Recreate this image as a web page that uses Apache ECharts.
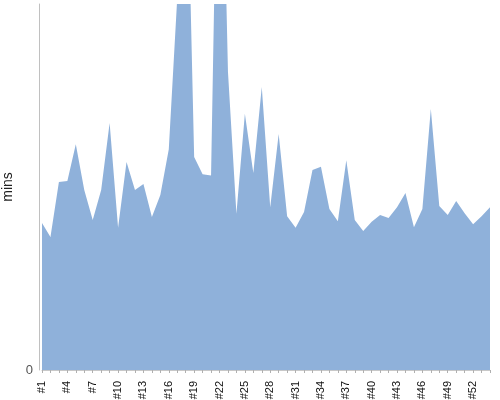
<!DOCTYPE html>
<html>
<head>
<meta charset="utf-8">
<script src="https://cdn.jsdelivr.net/npm/echarts@6/dist/echarts.min.js"></script>
<style>html,body{margin:0;padding:0;background:#fff}#c{width:500px;height:400px}</style>
</head>
<body>
<div id="c"></div>
<script>
var categories = [];
for (var n = 1; n <= 54; n++) categories.push('#' + n);
var minsValues = [24.1, 21.8, 30.8, 31.0, 37.0, 29.5, 24.6, 29.5, 40.5, 23.3,
  34.1, 29.5, 30.5, 25.1, 28.7, 36.2, 61, 95, 34.9, 32.1,
  31.9, 110, 48.9, 25.6, 42.0, 32.3, 46.4, 26.7, 38.7, 25.2,
  23.3, 25.9, 32.8, 33.3, 26.4, 24.4, 34.4, 24.6, 22.8, 24.3,
  25.4, 24.9, 26.7, 29.0, 23.4, 26.4, 42.8, 26.9, 25.4, 27.7,
  25.7, 23.9, 25.2, 26.7];
var yMax = 60;
var yTickLabels = ['0'];

var chart = echarts.init(document.getElementById('c'), null, {renderer: 'canvas'});
chart.setOption({
  animation: false,
  grid: {left: 42, right: 10, top: 4, bottom: 30, containLabel: false, outerBoundsMode: 'none'},
  xAxis: {
    type: 'category',
    data: categories,
    boundaryGap: false,
    offset: 2,
    axisLine: {show: true, lineStyle: {color: '#c8c8c8', width: 1}},
    axisTick: {show: true, alignWithLabel: true, interval: 0, length: 3, lineStyle: {color: '#b0b0b0'}},
    axisLabel: {
      interval: 2, rotate: 90, color: '#111', fontSize: 11,
      fontFamily: 'Liberation Sans, Arial, sans-serif', margin: 9
    },
    splitLine: {show: false}
  },
  yAxis: {
    type: 'value',
    min: 0, max: yMax, interval: yMax,
    offset: 3,
    name: 'mins',
    nameLocation: 'middle',
    nameGap: 20,
    nameTextStyle: {color: '#222', fontSize: 14, fontFamily: 'Liberation Sans, Arial, sans-serif'},
    axisLine: {show: true, lineStyle: {color: '#c0c0c0', width: 1}},
    axisTick: {show: false},
    axisLabel: {
      color: '#555', fontSize: 13, fontFamily: 'Liberation Sans, Arial, sans-serif', margin: 6,
      formatter: function (v) { return v === 0 ? yTickLabels[0] : ''; }
    },
    splitLine: {show: false}
  },
  series: [{
    type: 'line',
    data: minsValues,
    symbol: 'none',
    clip: true,
    lineStyle: {width: 0, color: '#8FB1DA'},
    areaStyle: {color: '#8FB1DA', opacity: 1}
  }]
});
</script>
</body>
</html>
